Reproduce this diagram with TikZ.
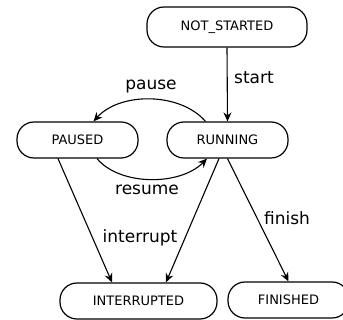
\documentclass[tikz,border=0pt]{standalone}
\usepackage{fontspec}
\setmainfont{DejaVu Sans}
\usetikzlibrary{arrows.meta}
\tikzset{
  state/.style={draw, line width=1.2pt, rounded corners=17pt, inner sep=0pt,
    minimum height=36pt, font=\fontsize{13}{15}\selectfont},
  trans/.style={line width=1.1pt, -{Stealth[length=9pt,width=8pt,inset=3pt]}},
  lbl/.style={inner sep=0pt, font=\fontsize{17}{19}\selectfont},
}
\begin{document}
\begin{tikzpicture}[x=1pt,y=-1pt]
\useasboundingbox (0,0) rectangle (343,320);
\node[state, minimum width=160pt, minimum height=40pt] (ns) at (227,27) {NOT\_STARTED};
\node[state, minimum width=121pt] (pa) at (77.5,140) {PAUSED};
\node[state, minimum width=121pt] (ru) at (227.5,140) {RUNNING};
\node[state, minimum width=157pt] (in) at (138.5,301) {INTERRUPTED};
\node[state, minimum width=121pt] (fi) at (288.5,300) {FINISHED};

\draw[trans] (ns.south) -- (ru.north);
\draw[trans] ([xshift=-22pt]ru.north) .. controls (180,92) and (120,92) .. ([xshift=16pt]pa.north);
\draw[trans] ([xshift=19.5pt]pa.south) .. controls (120,186) and (180,186) .. ([xshift=-20.5pt]ru.south);
\draw[trans] ([xshift=-19.5pt]pa.south) -- ([xshift=-26.5pt]in.north);
\draw[trans] ([xshift=-8.5pt]ru.south) -- ([xshift=27.5pt]in.north);
\draw[trans] (ru.south) -- (fi.north);

\node[lbl] (lstart) at (254,78) {start};
\node[lbl] (lpause) at (151,87) {pause};
\node[lbl] (lresume) at (147,190) {resume};
\node[lbl] (linter) at (140,238) {interrupt};
\node[lbl] (lfinish) at (287,218) {finish};
\end{tikzpicture}
\end{document}
